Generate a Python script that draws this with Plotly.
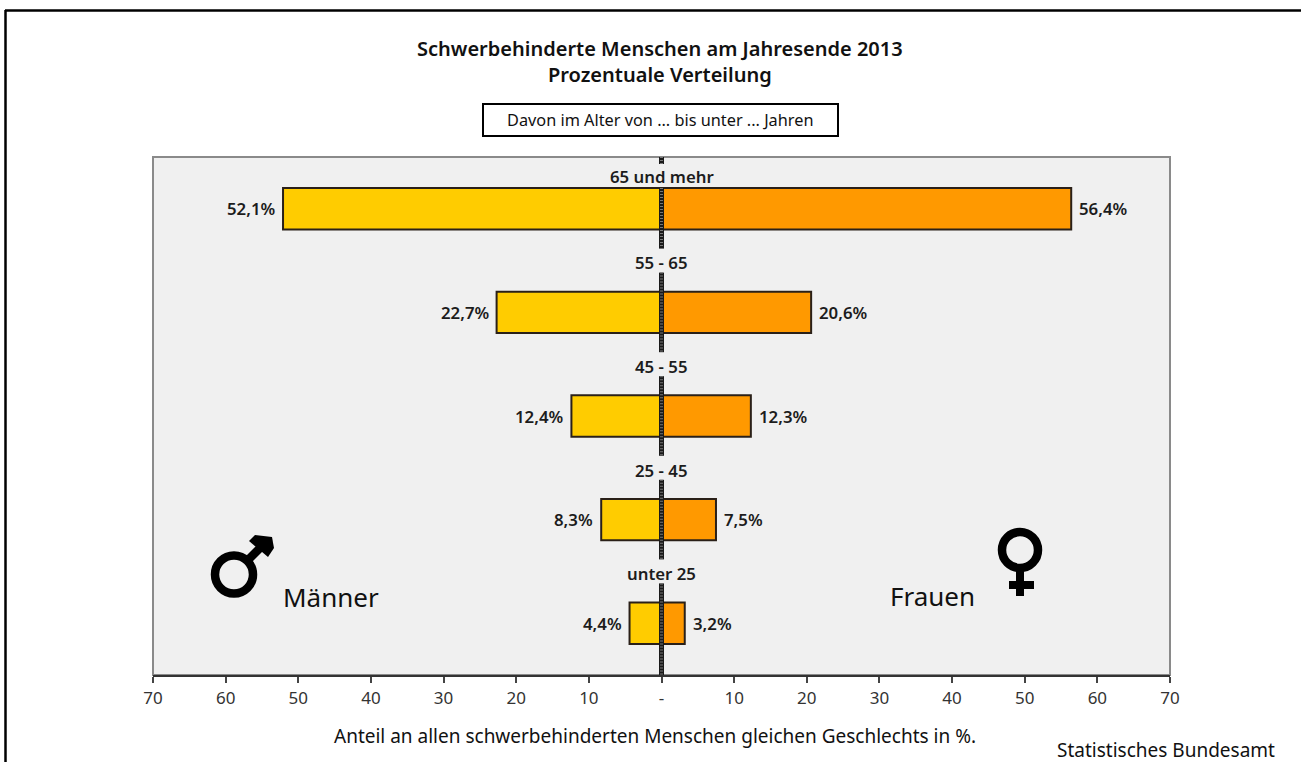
import plotly.graph_objects as go

kategorien = ["65 und mehr", "55 - 65", "45 - 55", "25 - 45", "unter 25"]
maenner = [52.1, 22.7, 12.4, 8.3, 4.4]
frauen = [56.4, 20.6, 12.3, 7.5, 3.2]
tick_werte = [-70, -60, -50, -40, -30, -20, -10, 0, 10, 20, 30, 40, 50, 60, 70]
tick_texte = ["70", "60", "50", "40", "30", "20", "10", "-", "10", "20", "30", "40", "50", "60", "70"]

W, H = 1301, 763
L, R, T, B = 153, 1170, 157, 675
FONT = "Noto Sans, sans-serif"
DARK = "#1c1c1c"

def x_paper(x):
    return (x - L) / (R - L)

def y_paper(y):
    return (B - y) / (B - T)

def deutsch(v):
    return f"{v:.1f}".replace(".", ",") + "%"

pos = list(range(len(kategorien)))
band = (B - T) / len(kategorien)

fig = go.Figure()
BAR = dict(width=0.4, orientation="h", hoverinfo="skip")
LINE = dict(color="#2a2018", width=2)
fig.add_trace(go.Bar(y=pos, x=[-v for v in maenner], name="Männer",
                     marker=dict(color="#ffcc00", line=LINE), **BAR))
fig.add_trace(go.Bar(y=pos, x=frauen, name="Frauen",
                     marker=dict(color="#ff9900", line=LINE), **BAR))

# centre line with gaps around the age labels (gap half height in pixels -> axis units)
gap = 12 / band
top_gap_centre = -0.5 + 19 / band
seg_y = [-0.5, top_gap_centre - gap, None]
seg_y += [top_gap_centre + gap, 0.5 - gap, None]
for i in pos[1:]:
    upper = i + 0.5 - gap if i < pos[-1] else len(pos) - 0.5
    seg_y += [i - 0.5 + gap, upper, None]
seg_x = [0 if v is not None else None for v in seg_y]
for col, dash in (("#1a1a1a", "solid"), ("#777777", "1px,2px")):
    fig.add_trace(go.Scatter(x=seg_x, y=seg_y, mode="lines", hoverinfo="skip",
                             line=dict(color=col, width=5 if dash == "solid" else 3, dash=dash),
                             connectgaps=False, cliponaxis=False))

LABEL = dict(family=FONT, size=16.8, color=DARK, weight=600)
ann = []
for i, k in enumerate(kategorien):
    ann.append(dict(x=0, y=i, text=k, showarrow=False, xanchor="center", yanchor="middle",
                    yshift=32 if i == 0 else 49.5, font=LABEL))
    ann.append(dict(x=-maenner[i], y=i, text=deutsch(maenner[i]), showarrow=False, xanchor="right",
                    xshift=-6, font=LABEL))
    ann.append(dict(x=frauen[i], y=i, text=deutsch(frauen[i]), showarrow=False, xanchor="left",
                    xshift=6, font=LABEL))

def text(x, y, s, size, weight=400, anchor="center"):
    ann.append(dict(xref="paper", yref="paper", x=x_paper(x), y=y_paper(y), text=s, showarrow=False,
                    xanchor=anchor, yanchor="middle", xshift=0,
                    font=dict(family=FONT, size=size, color="#111111", weight=weight)))

text(660, 61.5, "Schwerbehinderte Menschen am Jahresende 2013<br>Prozentuale Verteilung", 20, 600)
text(660, 120, "Davon im Alter von ... bis unter ... Jahren", 16.3)
text(281, 597, "Männer", 26, 400, "left")
text(977, 596, "Frauen", 26, 400, "right")
text(655, 736, "Anteil an allen schwerbehinderten Menschen gleichen Geschlechts in %.", 19)
text(1166, 750, "Statistisches Bundesamt", 19)

def pg(points):
    d = "M" + " L".join(f"{x_paper(a):.5f},{y_paper(b):.5f}" for a, b in points) + " Z"
    return dict(type="path", xref="paper", yref="paper", path=d,
                fillcolor="#000000", line=dict(width=0), layer="above")

def ring(cx, cy, r, w):
    return dict(type="circle", xref="paper", yref="paper",
                x0=x_paper(cx - r), x1=x_paper(cx + r), y0=y_paper(cy + r), y1=y_paper(cy - r),
                line=dict(color="#000000", width=w), fillcolor="rgba(0,0,0,0)", layer="above")

shapes = [
    # plot frame
    dict(type="rect", xref="paper", yref="paper", x0=0, x1=1, y0=0, y1=1,
         line=dict(color="#8a8a8a", width=2), fillcolor="#f0f0f0", layer="below"),
    # outer page border, open at right and bottom
    dict(type="line", xref="paper", yref="paper", x0=x_paper(5), x1=x_paper(W), y0=y_paper(10.5), y1=y_paper(10.5),
         line=dict(color="#000000", width=2.5)),
    dict(type="line", xref="paper", yref="paper", x0=x_paper(5.5), x1=x_paper(5.5), y0=y_paper(10), y1=y_paper(762),
         line=dict(color="#000000", width=2.5)),
    # heading box
    dict(type="rect", xref="paper", yref="paper", x0=x_paper(483), x1=x_paper(838), y0=y_paper(136), y1=y_paper(104),
         line=dict(color="#000000", width=2), fillcolor="#ffffff", layer="below"),
    # male symbol
    ring(234, 574.5, 19, 8.5),
    pg([(246, 556), (263, 539), (269, 545), (252, 562)]),
    pg([(249, 541), (255, 535), (272, 537), (274, 548), (268, 557)]),
    # female symbol
    ring(1020, 550, 18, 8.5),
    pg([(1016, 567), (1024, 567), (1024, 596), (1016, 596)]),
    pg([(1009, 581), (1034, 581), (1034, 589), (1009, 589)]),
]

fig.update_layout(
    width=W, height=H, autosize=False,
    margin=dict(l=L, r=W - R, t=T, b=H - B, pad=0),
    paper_bgcolor="#ffffff", plot_bgcolor="rgba(0,0,0,0)",
    barmode="overlay", showlegend=False,
    annotations=ann, shapes=shapes,
    xaxis=dict(range=[-70, 70], tickmode="array", tickvals=tick_werte, ticktext=tick_texte,
               ticks="outside", ticklen=6, tickwidth=1.5, tickcolor="#444444",
               showline=True, linecolor="#333333", linewidth=2, showgrid=False, zeroline=False,
               ticklabelstandoff=1,
               tickfont=dict(family=FONT, size=17, color="#333333"), fixedrange=True),
    yaxis=dict(range=[len(pos) - 0.5, -0.5], showticklabels=False, ticks="", showgrid=False,
               zeroline=False, showline=False, fixedrange=True),
)

fig.write_html("out.html", config=dict(displayModeBar=False),
               post_script="document.body.style.margin='0';document.body.style.overflow='hidden';")
